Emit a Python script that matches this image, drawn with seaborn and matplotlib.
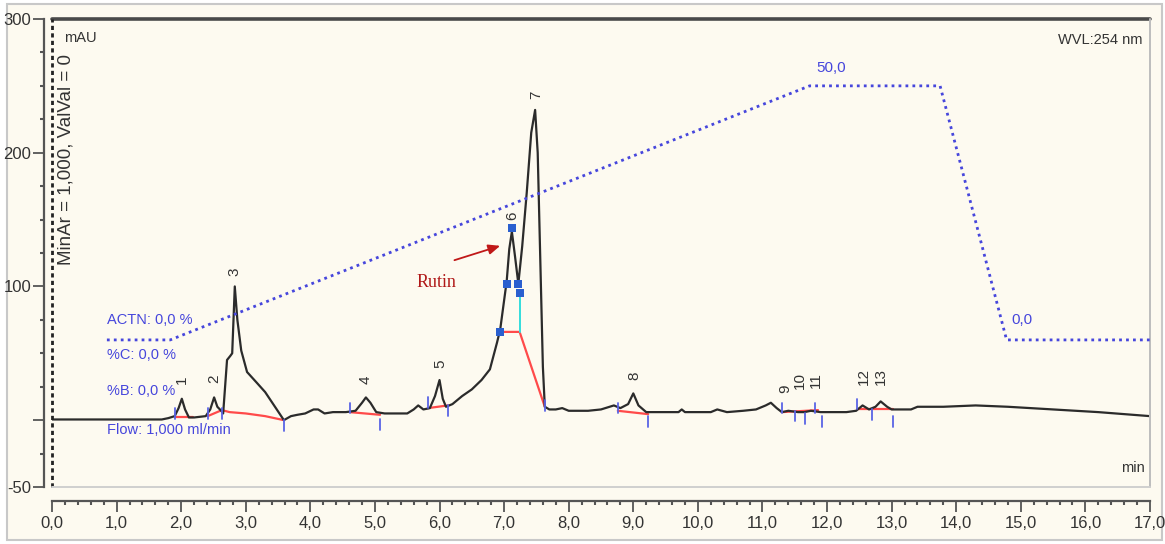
import numpy as np
import pandas as pd
import matplotlib
matplotlib.use("Agg")
import matplotlib.pyplot as plt
import seaborn as sns
from matplotlib import font_manager
from matplotlib.patches import Rectangle
from matplotlib.ticker import MultipleLocator, FixedLocator, FixedFormatter

# ---------------- data ----------------
# detector trace (time in min, absorbance in mAU)
time_min = [0.00, 1.70, 1.80, 1.90, 1.96, 2.01, 2.06, 2.12, 2.20, 2.38, 2.45, 2.51, 2.56, 2.62,
            2.65, 2.71, 2.76, 2.79, 2.83, 2.87, 2.93, 3.02, 3.17, 3.30, 3.48, 3.59,
            3.70, 3.80, 3.92, 4.05, 4.12, 4.22, 4.35, 4.55, 4.70, 4.80, 4.86, 4.93, 5.02,
            5.15, 5.30, 5.50, 5.60, 5.67, 5.75, 5.85, 5.93, 6.00, 6.05, 6.10, 6.20, 6.35, 6.50,
            6.65, 6.78, 6.89, 6.94, 7.04, 7.08, 7.12, 7.17, 7.22, 7.28, 7.35, 7.42, 7.48, 7.52,
            7.56, 7.60, 7.63, 7.70, 7.80, 7.90, 8.00, 8.30, 8.50, 8.70, 8.80, 8.92, 9.00, 9.08,
            9.20, 9.40, 9.70, 9.75, 9.80, 10.20, 10.30, 10.45, 10.70, 10.90, 11.05, 11.13, 11.22,
            11.30, 11.40, 11.55, 11.65, 11.75, 11.90, 12.30, 12.45, 12.55, 12.65, 12.75, 12.83,
            12.93, 13.00, 13.30, 13.40, 13.80, 14.30, 14.80, 15.50, 16.20, 17.00]
signal_mau = [0.5, 0.5, 1.5, 3, 9, 16, 8, 2, 2, 3, 8, 17, 10, 7,
              5, 45, 48, 50, 100, 75, 52, 36, 28, 21, 8, 0,
              3, 4, 5, 8, 8, 5, 6, 6, 7, 13, 17, 13, 6,
              5, 5, 5, 8, 11, 8, 9, 18, 30, 16, 10, 12, 18, 23,
              30, 38, 58, 68, 104, 128, 141, 122, 102, 130, 170, 215, 232, 200,
              120, 40, 10, 8, 8, 9, 7, 7, 8, 11, 9, 12, 20, 11,
              6, 6, 6, 8, 6, 6, 8, 6, 7, 8, 11, 13, 9,
              6, 7, 6, 6, 7, 6, 6, 7, 11, 8, 10, 14,
              10, 8, 8, 10, 10, 11, 10, 8, 6, 3]

# solvent program (%ACTN)
gradient_time = [0.85, 1.83, 11.73, 13.75, 14.78, 17.0]
gradient_pct = [0, 0, 50, 50, 0, 0]

# peak numbering
peak_ids = ["1", "2", "3", "4", "5", "6", "7", "8", "9", "10", "11", "12", "13"]
peak_time = [2.01, 2.51, 2.83, 4.86, 6.01, 7.12, 7.49, 9.01, 11.36, 11.58, 11.83, 12.57, 12.83]
peak_label_y = [27, 28, 108, 27, 39, 150, 240, 30, 20, 23, 24, 26, 26]

# integration baselines (time, mAU)
baseline_t = [[1.90, 2.18], [2.41, 2.63, 2.75, 3.00, 3.30, 3.59], [4.61, 5.08],
              [5.82, 6.13], [6.93, 7.24, 7.63], [8.76, 9.23], [11.30, 11.86], [12.46, 13.02]]
baseline_y = [[2, 2], [3, 7.5, 6, 5, 3, 0], [6, 4],
              [9, 11], [66, 66, 10], [7, 4.5], [6, 7.5], [8, 8]]

# peak start / end markers (time, centre in mAU)
mark_t = [1.90, 2.41, 2.63, 3.59, 4.61, 5.08, 5.82, 6.13, 7.63, 8.76, 9.23,
          11.30, 11.50, 11.66, 11.81, 11.92, 12.46, 12.70, 13.02]
mark_y = [5, 5, 5, -4, 9, -3, 13, 7, 11, 9, -1, 9, 3, 1, 9, -1, 12, 4, -1]

# apex / valley markers on peak 6
node_t = [6.93, 7.04, 7.12, 7.21, 7.24]
node_y = [66, 102, 144, 102, 95]

# ---------------- style ----------------
sns.set_style("white")
avail = {f.name for f in font_manager.fontManager.ttflist}
narrow = [f for f in ["Liberation Sans Narrow", "Liberation Sans", "DejaVu Sans"] if f in avail]
serif = [f for f in ["Liberation Serif", "DejaVu Serif"] if f in avail]
plt.rcParams["font.family"] = narrow

W, H = 1165, 544
BG = "#fdfaf0"
INK = "#333333"
BLUE = "#4646dc"


def fx(px):
    return px / W


def fy(py):
    return 1 - py / H


fig = plt.figure(figsize=(W / 100, H / 100), dpi=100, facecolor="white")
fig.patches.append(Rectangle((fx(7), fy(540)), fx(1162) - fx(7), fy(4) - fy(540),
                             transform=fig.transFigure, facecolor=BG,
                             edgecolor="#c8c8c8", linewidth=1.5, zorder=-5))

ax = fig.add_axes([fx(52), fy(487), fx(1150) - fx(52), fy(19) - fy(487)])
ax.set_zorder(2)
ax.set_facecolor(BG)
ax.set_xlim(0, 17)
ax.set_ylim(-50, 300)

# main trace
trace = pd.DataFrame({"t": time_min, "mAU": signal_mau})
sns.lineplot(data=trace, x="t", y="mAU", ax=ax, sort=False, estimator=None,
             color="#2b2b2b", linewidth=1.6, zorder=4)

# integration baselines
for bt, by in zip(baseline_t, baseline_y):
    ax.plot(bt, by, color="#ff4a4a", linewidth=1.6, zorder=3)
ax.plot([7.24, 7.24], [66, 95], color="#33dddd", linewidth=1.4, zorder=3)

# start / end ticks
for t, y in zip(mark_t, mark_y):
    ax.plot([t, t], [y - 4, y + 4], color="#5a64e6", linewidth=1.3, zorder=5)

# peak-6 nodes
ax.scatter(node_t, node_y, marker="s", s=26, color="#2a5fcf", zorder=6, linewidths=0)

# peak labels
for pid, t, y in zip(peak_ids, peak_time, peak_label_y):
    ax.text(t, y, pid, rotation=90, ha="center", va="bottom", fontsize=11, color=INK, zorder=7)

# Rutin annotation
ax.text(5.96, 103, "Rutin", family=serif, fontsize=13, color="#b01818",
        ha="center", va="center", zorder=7)
ax.annotate("", xy=(6.98, 131), xytext=(6.19, 119),
            arrowprops=dict(arrowstyle="-|>,head_length=0.7,head_width=0.3",
                            color="#c01818", lw=1.3), zorder=7)

# solvent program on its own hidden scale (0 % <-> 60 mAU, 50 % <-> 250 mAU)
ax2 = ax.twinx()
ax2.set_ylim((-50 - 60) / 3.8, (300 - 60) / 3.8)
grad = pd.DataFrame({"t": gradient_time, "pct": gradient_pct})
sns.lineplot(data=grad, x="t", y="pct", ax=ax2, sort=False, estimator=None,
             color=BLUE, linewidth=2.0, linestyle=(0, (1, 1.5)))
ax2.set_axis_off()
ax2.text(11.83, (263 - 60) / 3.8, "50,0", color=BLUE, fontsize=11, ha="left", va="center")
ax2.text(14.86, (75 - 60) / 3.8, "0,0", color=BLUE, fontsize=11, ha="left", va="center")

# method annotations
for label, y in [("ACTN: 0,0 %", 75), ("%C: 0,0 %", 48.5), ("%B: 0,0 %", 21.6),
                 ("Flow: 1,000 ml/min", -7.5)]:
    ax.text(0.85, y, label, color=BLUE, fontsize=10.5, ha="left", va="center", zorder=7)

# axes
ax.set_xlabel("")
ax.set_ylabel("")
for s in ["top", "right"]:
    ax.spines[s].set_visible(False)
ax.spines["left"].set_position(("outward", 6))
ax.spines["bottom"].set_position(("outward", 10))
for s in ["left", "bottom"]:
    ax.spines[s].set_color("#555555")
    ax.spines[s].set_linewidth(1.6)

xmaj = np.arange(0, 18, 1.0)
ax.xaxis.set_major_locator(FixedLocator(xmaj))
ax.xaxis.set_major_formatter(FixedFormatter([f"{v:.1f}".replace(".", ",") for v in xmaj]))
ax.xaxis.set_minor_locator(MultipleLocator(0.2))
ymaj = [-50, 0, 100, 200, 300]
ax.yaxis.set_major_locator(FixedLocator(ymaj))
ax.yaxis.set_major_formatter(FixedFormatter(["-50", "", "100", "200", "300"]))
ax.yaxis.set_minor_locator(MultipleLocator(25))
ax.tick_params(axis="both", which="both", bottom=True, left=True, top=False, right=False)
ax.tick_params(axis="both", which="major", direction="out", length=8, width=1.3,
               color="#555555", labelcolor=INK, labelsize=12, pad=3)
ax.tick_params(axis="both", which="minor", direction="out", length=3, width=1.5,
               color="#555555")
ax.tick_params(axis="y", which="major", pad=1)

# plot frame
ax.plot([0, 1], [1, 1], transform=ax.transAxes, color="#4a4a4a", lw=2.6, clip_on=False, zorder=8)
ax.plot([0, 0], [0, 1], transform=ax.transAxes, color="#222222", lw=2.0,
        linestyle=(0, (1.5, 1.2)), clip_on=False, zorder=8)
ax.plot([1, 1], [0, 1], transform=ax.transAxes, color="#bdbdbd", lw=1.4, clip_on=False, zorder=8)
ax.plot([0, 1], [0, 0], transform=ax.transAxes, color="#cfcfcf", lw=1.4, clip_on=False, zorder=8)

# in-frame captions
ax.text(0.0128, 0.70, "MinAr = 1,000, ValVal = 0", transform=ax.transAxes, rotation=90,
        fontsize=13.5, color=INK, ha="center", va="center", zorder=9)
ax.text(0.011, 0.96, "mAU", transform=ax.transAxes, fontsize=10.5, color=INK,
        ha="left", va="center", zorder=9)
fig.text(fx(1143), fy(40), "WVL:254 nm", fontsize=10.5, color=INK, ha="right", va="center")
fig.text(fx(1145), fy(468), "min", fontsize=10.5, color=INK, ha="right", va="center")

fig.savefig("out.png", dpi=100, facecolor="white")
